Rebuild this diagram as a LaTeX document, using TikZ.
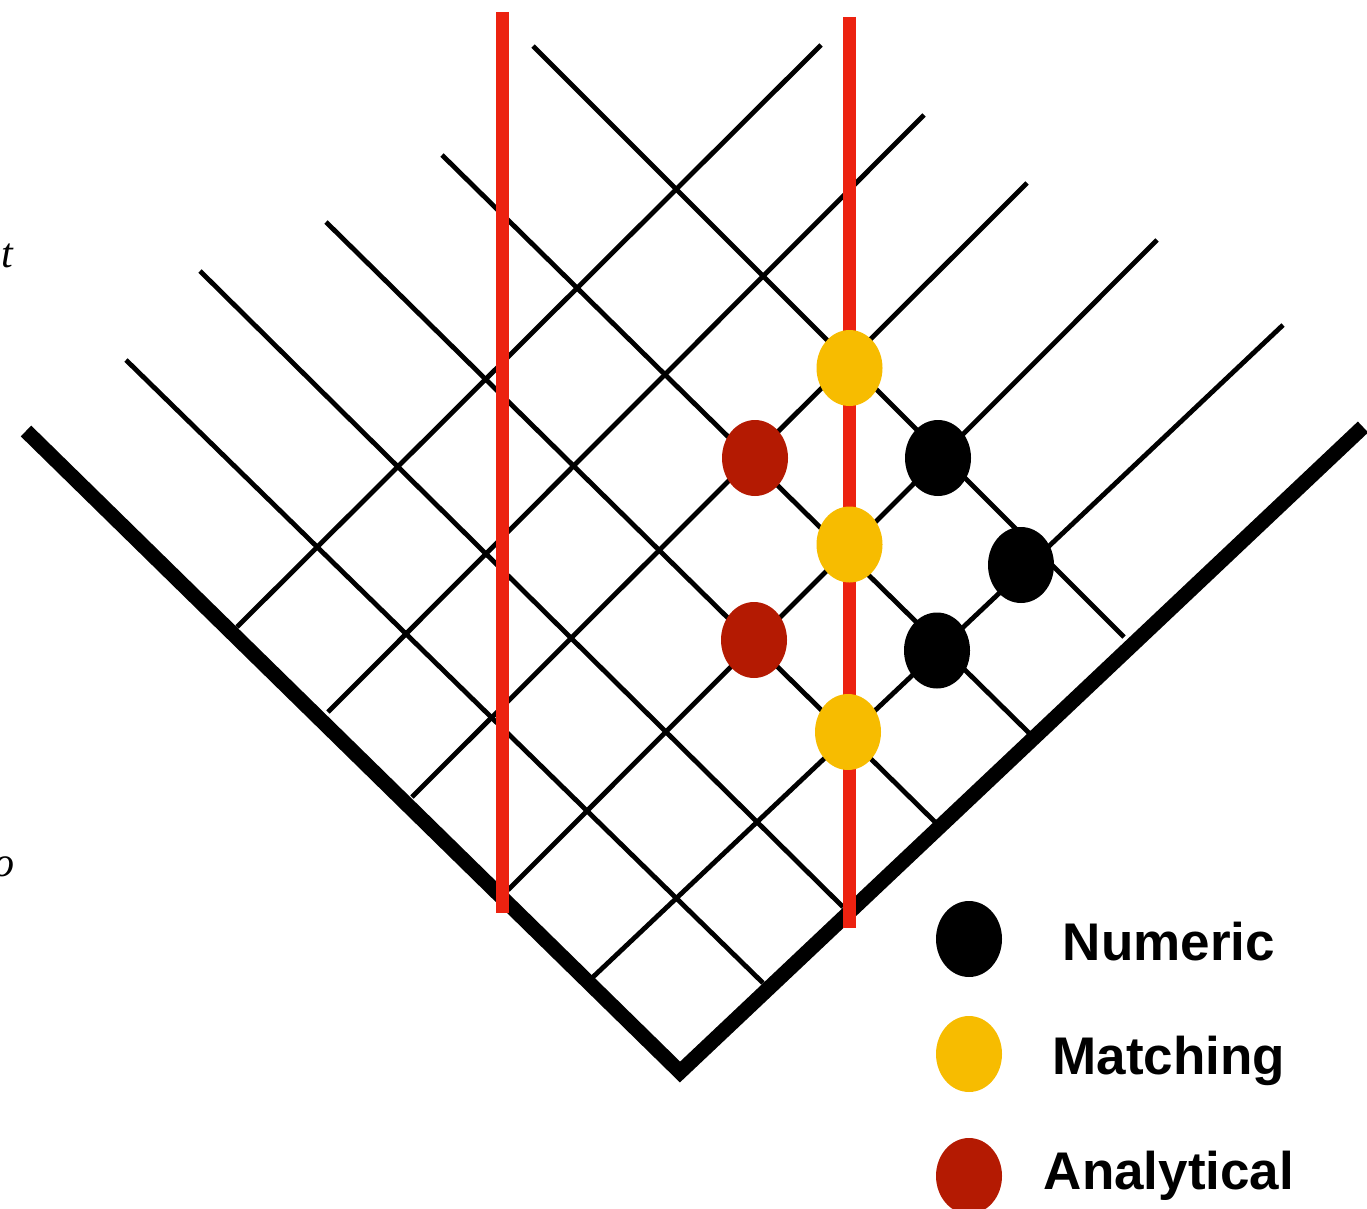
\documentclass[tikz,border=0pt]{standalone}
\usepackage{fontspec}
\setmainfont{Liberation Serif}
\newfontfamily\legendfont{Liberation Sans}
\usetikzlibrary{shapes.geometric}
\definecolor{redline}{RGB}{236,34,16}
\definecolor{matchyellow}{RGB}{247,188,0}
\definecolor{anared}{RGB}{180,26,2}
\tikzset{
  gridline/.style={line width=4.8pt, black},
  armline/.style={line width=15pt, black, line join=miter},
  cutline/.style={line width=13pt, redline},
  dot/.style={ellipse, minimum width=66pt, minimum height=76pt, inner sep=0pt, draw=none},
  numeric/.style={dot, fill=black},
  matching/.style={dot, fill=matchyellow},
  analytical/.style={dot, fill=anared},
  legendtext/.style={anchor=base, inner sep=0pt, font=\legendfont\bfseries\fontsize{53}{60}\selectfont},
  axistext/.style={inner sep=0pt, font=\itshape\fontsize{42}{48}\selectfont}
}
\begin{document}
\begin{tikzpicture}[x=1pt,y=-1pt]
\useasboundingbox (0,0) rectangle (1367,1209);
\clip (0,0) rectangle (1367,1209);
% down-right grid lines
\coordinate (a1) at (126,360);  \coordinate (a2) at (763,983);
\coordinate (b1) at (200,271);  \coordinate (b2) at (843,907);
\coordinate (c1) at (326,222);  \coordinate (c2) at (935,822);
\coordinate (d1) at (442,155);  \coordinate (d2) at (1029,733);
\coordinate (e1) at (533,46);   \coordinate (e2) at (1124,637);
% up-right grid lines
\coordinate (f1) at (237,627);  \coordinate (f2) at (821,45);
\coordinate (g1) at (328,712);  \coordinate (g2) at (924,115);
\coordinate (h1) at (412,797);  \coordinate (h2) at (1027,183);
\coordinate (i1) at (508,890);  \coordinate (i2) at (1157,240);
\coordinate (j1) at (593,977);  \coordinate (j2) at (1283,325);
\foreach \s in {a,b,c,d,e,f,g,h,i,j}{\draw[gridline] (\s1) -- (\s2);}
% light cone arms
\coordinate (armL) at (26,431);
\coordinate (armV) at (680,1072);
\coordinate (armR) at (1363,427);
\draw[armline] (armL) -- (armV) -- (armR);
% red vertical cuts
\coordinate (r1t) at (502.5,12);  \coordinate (r1b) at (502.5,913);
\coordinate (r2t) at (849.5,17);  \coordinate (r2b) at (849.5,928);
\draw[cutline] (r1t) -- (r1b);
\draw[cutline] (r2t) -- (r2b);
% points
\node[matching] (m1) at (849.5,368) {};
\node[matching] (m2) at (849.5,544.5) {};
\node[matching] (m3) at (848,732) {};
\node[analytical] (an1) at (755,458) {};
\node[analytical] (an2) at (754,640) {};
\node[numeric] (n1) at (938,458) {};
\node[numeric] (n2) at (1021,565) {};
\node[numeric] (n3) at (937,650.5) {};
% legend
\node[numeric] (ln) at (969,939) {};
\node[matching] (lm) at (969,1054) {};
\node[analytical] (la) at (969,1176) {};
\node[legendtext] (tn) at (1169,960) {Numeric};
\node[legendtext] (tm) at (1169,1074) {Matching};
\node[legendtext] (ta) at (1169,1189) {Analytical};
% axis labels (partly cut off, as in the reference)
\node[axistext, anchor=base west] (tlab) at (1,267) {t};
\node[axistext, anchor=base east] (olab) at (15,876) {o};
\end{tikzpicture}
\end{document}
